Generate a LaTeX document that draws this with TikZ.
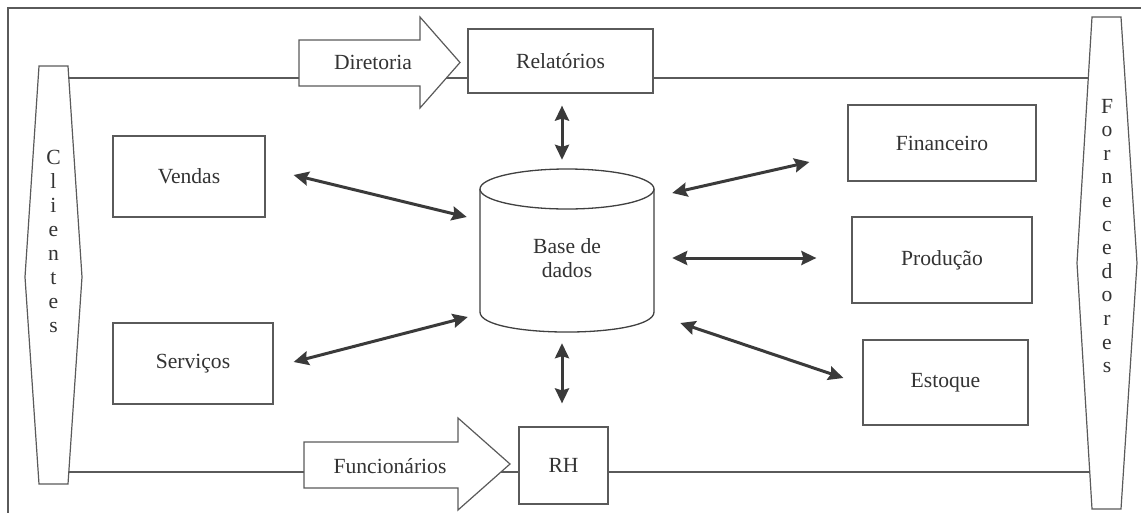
\documentclass[tikz,border=0pt]{standalone}
\usepackage{fontspec}
\setmainfont{Liberation Serif}
\usetikzlibrary{calc,arrows.meta,positioning,backgrounds}
\definecolor{lnc}{HTML}{5A5A5A}
\definecolor{arwc}{HTML}{3A3A3A}
\definecolor{txc}{HTML}{333333}
\newcommand{\txtfont}{\fontsize{21.6}{24}\selectfont}
\tikzset{
  box/.style={rectangle, draw=lnc, line width=1.2pt, fill=white, font=\txtfont, text=txc, inner sep=0pt},
  flow/.style={draw=lnc, line width=1.2pt, fill=white},
  dbl/.style={{Stealth[length=15pt,width=14pt,inset=2pt]}-{Stealth[length=15pt,width=14pt,inset=2pt]}, line width=3pt, draw=arwc},
  side/.style={draw=lnc, line width=1.2pt, fill=white},
  lbl/.style={font=\txtfont, text=txc, align=center, inner sep=0pt},
  wire/.style={draw=lnc, line width=1.2pt},
}

\begin{document}
\begin{tikzpicture}[x=1pt, y=-1pt]
  \useasboundingbox (0,0) rectangle (1141,512);
  \draw[wire] (8,8) rectangle (1150,520);

  % side bars
  \draw[side] (39,66) -- (68,66) -- (82,277) -- (68,484) -- (39,484) -- (25,277) -- cycle;
  \node[lbl] (cli) at (53.5,241) {C\\l\\i\\e\\n\\t\\e\\s};
  \draw[side] (1092,17) -- (1121,17) -- (1137,263) -- (1121,509) -- (1092,509) -- (1077,263) -- cycle;
  \node[lbl, font=\fontsize{21.6}{23.6}\selectfont] (forn) at (1107,236) {F\\o\\r\\n\\e\\c\\e\\d\\o\\r\\e\\s};
  \coordinate (cliA) at (68.8,78);
  \coordinate (cliB) at (68.8,472);
  \coordinate (fornA) at (1088.3,78);
  \coordinate (fornB) at (1089.8,472);

  % boxes
  \node[box, minimum width=185pt, minimum height=64pt] (rel) at (560.5,61) {Relatórios};
  \node[box, minimum width=89pt, minimum height=77pt] (rh) at (563.5,465.5) {RH};
  \node[box, minimum width=152pt, minimum height=81pt] (ven) at (189,176.5) {Vendas};
  \node[box, minimum width=160pt, minimum height=81pt] (ser) at (193,363.5) {Serviços};
  \node[box, minimum width=188pt, minimum height=76pt] (fin) at (942,143) {Financeiro};
  \node[box, minimum width=180pt, minimum height=86pt] (pro) at (942,260) {Produção};
  \node[box, minimum width=165pt, minimum height=85pt] (est) at (945.5,382.5) {Estoque};

  % flow arrows
  \draw[flow] (299,40) -- (420,40) -- (420,17) -- (460,62.5) -- (420,108) -- (420,86) -- (299,86) -- cycle;
  \node[lbl] (dir) at (373,62) {Diretoria};
  \draw[flow] (304,442) -- (458,442) -- (458,418) -- (510,464) -- (458,510) -- (458,488) -- (304,488) -- cycle;
  \node[lbl] (fun) at (390,466) {Funcionários};

  % base de dados
  \node[minimum width=174pt, minimum height=163pt, inner sep=0pt] (db) at (567,250.5) {};
  \draw[draw=black!75, line width=1.3pt, fill=white] (480,189) -- (480,312)
    .. controls (480,338.7) and (654,338.7) .. (654,312) -- (654,189);
  \draw[draw=black!75, line width=1.3pt, fill=white] (567,189) ellipse [x radius=87, y radius=20];
  \node[lbl] (dbl) at ($(db)+(0,8)$) {Base de\\dados};

  \begin{scope}[on background layer]
    \draw[wire] (cliA) -- (fornA);
    \draw[wire] (cliB) -- (fornB);
  \end{scope}

  % data links
  \draw[dbl] ($(rel.south)+(1.5,12)$) -- ($(db.north)+(-5,-9)$);
  \draw[dbl] ($(db.south)+(-5,11)$) -- ($(rh.north)+(-1.5,-23)$);
  \draw[dbl] ($(ven.east)+(28,-1.5)$) -- ($(db.west)+(-13,-33.5)$);
  \draw[dbl] ($(ser.east)+(20,-1.5)$) -- ($(db.west)+(-12,66.5)$);
  \draw[dbl] ($(db.east)+(18,-57.5)$) -- ($(fin.west)+(-38,19)$);
  \draw[dbl] ($(db.east)+(18,7.5)$) -- ($(pro.west)+(-35,-2)$);
  \draw[dbl] ($(db.east)+(26,72.5)$) -- ($(est.west)+(-19,-4.5)$);
\end{tikzpicture}
\end{document}
